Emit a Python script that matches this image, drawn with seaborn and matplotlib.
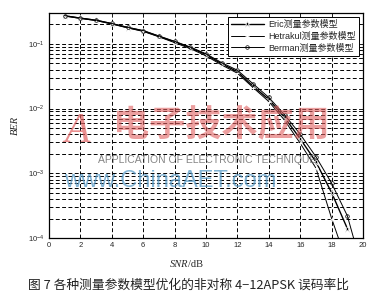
import matplotlib
matplotlib.use("Agg")
import matplotlib.pyplot as plt
import seaborn as sns
import pandas as pd
import numpy as np
from matplotlib.ticker import LogLocator, FixedLocator, NullFormatter

snr = [1, 2, 3, 4, 5, 6, 7, 8, 9, 10, 11, 12, 13, 14, 15, 16, 17, 18, 19]
ber_eric = [0.27, 0.248, 0.23, 0.204, 0.178, 0.158, 0.13, 0.107, 0.087, 0.068,
            0.049, 0.037, 0.022, 0.0138, 0.0073, 0.0034, 0.0015, 5.0e-4, 1.4e-4]
snr_h = [1, 2, 3, 4, 5, 6, 7, 8, 9, 10, 11, 12, 13, 14, 15, 16, 17, 18, 19]
ber_hetrakul = [0.268, 0.246, 0.228, 0.202, 0.176, 0.155, 0.128, 0.104, 0.084, 0.065,
                0.047, 0.035, 0.021, 0.0128, 0.0066, 0.0029, 0.0012, 2.0e-4, 4.0e-5]
snr_b = [1, 2, 3, 4, 5, 6, 7, 8, 9, 10, 11, 12, 13, 14, 15, 16, 17, 18, 19, 20]
ber_berman = [0.272, 0.25, 0.232, 0.206, 0.18, 0.16, 0.132, 0.109, 0.089, 0.07,
              0.051, 0.039, 0.024, 0.0148, 0.0080, 0.0040, 0.0018, 7.0e-4, 2.2e-4, 3.0e-5]
labels = ["Eric测量参数模型", "Hetrakul测量参数模型", "Berman测量参数模型"]
xticks = [0, 2, 4, 6, 8, 10, 12, 14, 16, 18, 20]
caption = "图 7 各种测量参数模型优化的非对称 4−12APSK 误码率比"

sns.set_style("white")
plt.rcParams['font.family'] = ['Liberation Sans', 'Noto Sans CJK SC', 'DejaVu Sans']

fig = plt.figure(figsize=(3.77, 2.99), dpi=100)
ax = fig.add_axes([0.130, 0.204, 0.833, 0.753])

df_e = pd.DataFrame({"snr": snr, "ber": ber_eric})
df_h = pd.DataFrame({"snr": snr_h, "ber": ber_hetrakul})
df_b = pd.DataFrame({"snr": snr_b, "ber": ber_berman})

sns.lineplot(data=df_e, x="snr", y="ber", ax=ax, color="black", lw=1.0,
             marker="*", markersize=4.5, markeredgewidth=0.5, label=labels[0])
sns.lineplot(data=df_h, x="snr", y="ber", ax=ax, color="black", lw=0.7,
             marker="+", markersize=3.5, markeredgewidth=0.6, label=labels[1])
sns.lineplot(data=df_b, x="snr", y="ber", ax=ax, color="black", lw=0.7,
             marker="o", markersize=2.6, markerfacecolor="none", markeredgewidth=0.5,
             markeredgecolor="black", label=labels[2])

ax.set_yscale("log")
ax.set_xlim(0, 20)
ax.set_ylim(1e-4, 0.3)
ax.xaxis.set_major_locator(FixedLocator(xticks))
ax.yaxis.set_major_locator(LogLocator(base=10, numticks=10))
ax.yaxis.set_minor_locator(LogLocator(base=10, subs=np.arange(2, 10), numticks=20))
ax.yaxis.set_minor_formatter(NullFormatter())
ax.grid(True, which="major", axis="both", color="black", ls=(0, (4, 2.5)), lw=0.7)
ax.grid(True, which="minor", axis="y", color="black", ls=(0, (4, 2.5)), lw=0.7)
ax.tick_params(axis="both", which="both", direction="in", labelsize=5.5, length=3, width=0.6,
               top=True, right=True, pad=3)
ax.tick_params(axis="y", which="minor", length=1.5)
for s in ax.spines.values():
    s.set_color("black")
    s.set_linewidth(0.9)

ax.set_xlabel("")
ax.set_ylabel("BER", fontsize=7.5, family="Liberation Serif", style="italic", labelpad=6)
fig.text(0.5, 0.115, "SNR", fontsize=7.5, family="Liberation Serif", style="italic",
         ha="right", va="center")
fig.text(0.5, 0.115, "/dB", fontsize=7.5, family="Liberation Serif", ha="left", va="center")

leg = ax.legend(loc="upper right", fontsize=6.5, frameon=True, fancybox=False,
                edgecolor="black", handlelength=3.6, borderpad=0.35, labelspacing=0.3,
                handletextpad=0.5, borderaxespad=0.45)
leg.get_frame().set_linewidth(0.7)
leg.get_frame().set_alpha(1)

# watermark
fig.text(0.17, 0.56, "A", fontsize=30, color="#e06060", alpha=0.7, style="italic",
         family="Liberation Serif", va="center")
fig.text(0.30, 0.58, "电子技术应用", fontsize=26, color="#e06060", alpha=0.6,
         family=["Noto Sans CJK SC"], va="center", weight="bold")
fig.text(0.26, 0.465, "APPLICATION OF ELECTRONIC TECHNIQUE", fontsize=7.5, color="#666666",
         alpha=0.8, va="center")
fig.text(0.17, 0.395, "www.ChinaAET.com", fontsize=17, color="#5a9cc8", alpha=0.75, va="center")

fig.text(0.5, 0.045, caption, fontsize=9.2, family=["Noto Sans CJK SC", "DejaVu Sans"],
         ha="center", va="center", color="#222222")

fig.savefig("out.png", dpi=100)
